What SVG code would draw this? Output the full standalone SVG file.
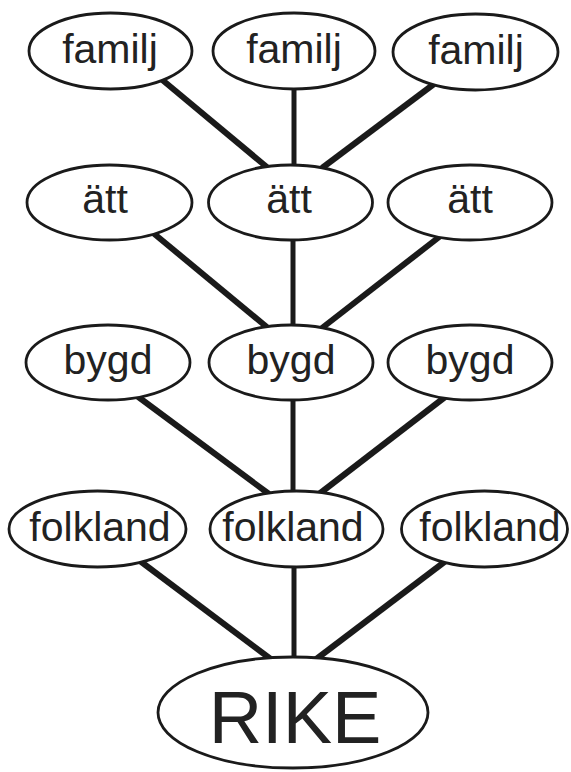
<svg xmlns="http://www.w3.org/2000/svg" width="571" height="772" viewBox="0 0 571 772">
<style>
.n ellipse{fill:#fff;stroke:#1a1a1a;stroke-width:2.8}
.n text{font-family:"Liberation Sans",Arial,sans-serif;font-size:41px;fill:#222;text-anchor:middle}
#rike text{font-size:74px}
.c line{stroke:#1a1a1a;stroke-width:6;stroke-linecap:butt}
.c line.v{stroke-width:5}
</style>
<rect width="571" height="772" fill="#fff"/>
<g class="c" id="connectors">
<line x1="160" y1="78" x2="268" y2="168"/>
<line class="v" x1="294" y1="86" x2="294" y2="168"/>
<line x1="434" y1="84" x2="322" y2="168"/>
<line x1="152" y1="232" x2="268" y2="328"/>
<line class="v" x1="293" y1="238" x2="293" y2="328"/>
<line x1="443" y1="234" x2="322" y2="328"/>
<line x1="137" y1="396" x2="269" y2="494"/>
<line class="v" x1="293" y1="398" x2="293" y2="494"/>
<line x1="449" y1="394" x2="319" y2="494"/>
<line x1="140" y1="561" x2="272" y2="660"/>
<line class="v" x1="294" y1="565" x2="294" y2="660"/>
<line x1="447" y1="560" x2="315" y2="660"/>
</g>
<g class="n" id="familj1"><ellipse cx="110.5" cy="51" rx="81.5" ry="38"/><text x="110" y="63">familj</text></g>
<g class="n" id="familj2"><ellipse cx="294" cy="51" rx="81" ry="38"/><text x="294" y="63">familj</text></g>
<g class="n" id="familj3"><ellipse cx="475.5" cy="52" rx="82.5" ry="38"/><text x="476" y="64">familj</text></g>
<g class="n" id="att1"><ellipse cx="109.5" cy="202.5" rx="82.5" ry="37.5"/><text x="105" y="213">ätt</text></g>
<g class="n" id="att2"><ellipse cx="290.5" cy="202.5" rx="82" ry="37.5"/><text x="289" y="213">ätt</text></g>
<g class="n" id="att3"><ellipse cx="470" cy="202.5" rx="82" ry="37.5"/><text x="470" y="213">ätt</text></g>
<g class="n" id="bygd1"><ellipse cx="108" cy="362.5" rx="82" ry="37.5"/><text x="108" y="374">bygd</text></g>
<g class="n" id="bygd2"><ellipse cx="291" cy="362.5" rx="82" ry="37.5"/><text x="291" y="374">bygd</text></g>
<g class="n" id="bygd3"><ellipse cx="470" cy="362.5" rx="82" ry="37.5"/><text x="470" y="374">bygd</text></g>
<g class="n" id="folkland1"><ellipse cx="97.5" cy="529" rx="88.5" ry="38"/><text x="100" y="541">folkland</text></g>
<g class="n" id="folkland2"><ellipse cx="296.5" cy="529" rx="86.5" ry="38"/><text x="293" y="541">folkland</text></g>
<g class="n" id="folkland3"><ellipse cx="484.5" cy="529" rx="83" ry="38"/><text x="490" y="541">folkland</text></g>
<g class="n" id="rike"><ellipse cx="293" cy="712.5" rx="135" ry="55.5"/><text x="295" y="743">RIKE</text></g>
</svg>
